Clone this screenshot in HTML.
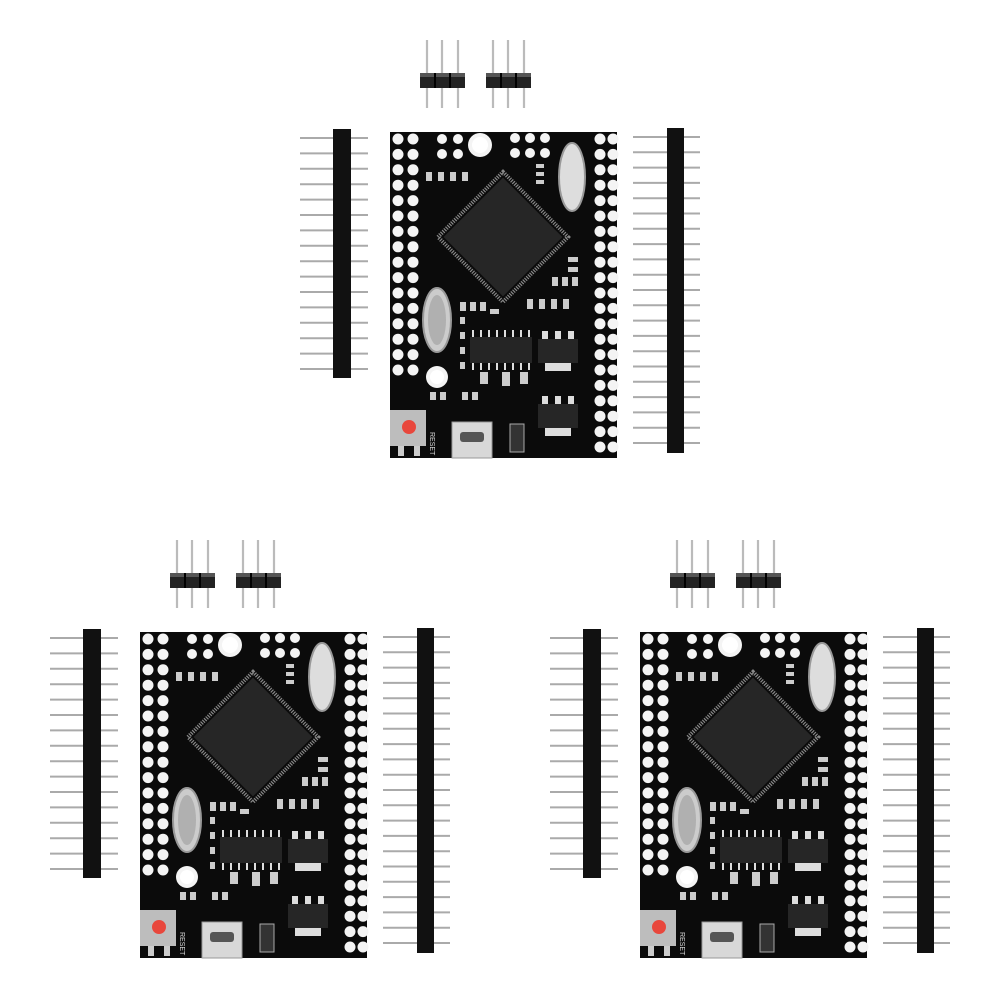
<!DOCTYPE html>
<html><head><meta charset="utf-8"><style>
html,body{margin:0;padding:0;background:#fff;}
svg{display:block;}
</style></head><body>
<svg width="1001" height="1001" viewBox="0 0 1001 1001" xmlns="http://www.w3.org/2000/svg">
<defs>
<g id="sh">
  <g stroke="#bbb" stroke-width="2.2">
    <line x1="7" y1="40" x2="7" y2="108"/><line x1="22" y1="40" x2="22" y2="108"/><line x1="38" y1="40" x2="38" y2="108"/>
  </g>
  <rect x="0" y="73" width="45" height="15" fill="#222"/>
  <rect x="0" y="73" width="45" height="4" fill="#555"/>
  <rect x="14" y="73" width="2" height="15" fill="#000"/><rect x="29" y="73" width="2" height="15" fill="#000"/>
</g>
<g id="board">
  <use href="#sh" transform="translate(420,0)"/>
  <use href="#sh" transform="translate(486,0)"/>
  <!-- left header -->
  <g stroke="#aaa" stroke-width="2">
    <line x1="300" y1="138" x2="368" y2="138"/><line x1="300" y1="153.4" x2="368" y2="153.4"/><line x1="300" y1="168.8" x2="368" y2="168.8"/><line x1="300" y1="184.2" x2="368" y2="184.2"/>
    <line x1="300" y1="199.6" x2="368" y2="199.6"/><line x1="300" y1="215" x2="368" y2="215"/><line x1="300" y1="230.4" x2="368" y2="230.4"/><line x1="300" y1="245.8" x2="368" y2="245.8"/>
    <line x1="300" y1="261.2" x2="368" y2="261.2"/><line x1="300" y1="276.6" x2="368" y2="276.6"/><line x1="300" y1="292" x2="368" y2="292"/><line x1="300" y1="307.4" x2="368" y2="307.4"/>
    <line x1="300" y1="322.8" x2="368" y2="322.8"/><line x1="300" y1="338.2" x2="368" y2="338.2"/><line x1="300" y1="353.6" x2="368" y2="353.6"/><line x1="300" y1="369" x2="368" y2="369"/>
  </g>
  <rect x="333" y="129" width="18" height="249" fill="#111"/>
  <!-- right header -->
  <g stroke="#aaa" stroke-width="2">
    <line x1="633" y1="137" x2="700" y2="137"/><line x1="633" y1="152.3" x2="700" y2="152.3"/><line x1="633" y1="167.6" x2="700" y2="167.6"/><line x1="633" y1="182.9" x2="700" y2="182.9"/>
    <line x1="633" y1="198.2" x2="700" y2="198.2"/><line x1="633" y1="213.5" x2="700" y2="213.5"/><line x1="633" y1="228.8" x2="700" y2="228.8"/><line x1="633" y1="244.1" x2="700" y2="244.1"/>
    <line x1="633" y1="259.4" x2="700" y2="259.4"/><line x1="633" y1="274.7" x2="700" y2="274.7"/><line x1="633" y1="290" x2="700" y2="290"/><line x1="633" y1="305.3" x2="700" y2="305.3"/>
    <line x1="633" y1="320.6" x2="700" y2="320.6"/><line x1="633" y1="335.9" x2="700" y2="335.9"/><line x1="633" y1="351.2" x2="700" y2="351.2"/><line x1="633" y1="366.5" x2="700" y2="366.5"/>
    <line x1="633" y1="381.8" x2="700" y2="381.8"/><line x1="633" y1="397.1" x2="700" y2="397.1"/><line x1="633" y1="412.4" x2="700" y2="412.4"/><line x1="633" y1="427.7" x2="700" y2="427.7"/>
    <line x1="633" y1="443" x2="700" y2="443"/>
  </g>
  <rect x="667" y="128" width="17" height="325" fill="#111"/>
  <!-- PCB -->
  <g transform="translate(390,132)">
    <rect x="0" y="0" width="227" height="326" fill="#0b0b0b"/>
    <g fill="#f4f4f4" id="lcol">
      <circle cx="8" cy="7" r="5.5"/><circle cx="8" cy="22.4" r="5.5"/><circle cx="8" cy="37.8" r="5.5"/><circle cx="8" cy="53.2" r="5.5"/>
      <circle cx="8" cy="68.6" r="5.5"/><circle cx="8" cy="84" r="5.5"/><circle cx="8" cy="99.4" r="5.5"/><circle cx="8" cy="114.8" r="5.5"/>
      <circle cx="8" cy="130.2" r="5.5"/><circle cx="8" cy="145.6" r="5.5"/><circle cx="8" cy="161" r="5.5"/><circle cx="8" cy="176.4" r="5.5"/>
      <circle cx="8" cy="191.8" r="5.5"/><circle cx="8" cy="207.2" r="5.5"/><circle cx="8" cy="222.6" r="5.5"/><circle cx="8" cy="238" r="5.5"/>
    </g>
    <use href="#lcol" transform="translate(15,0)"/>
    <g fill="#f4f4f4" id="rcol">
      <circle cx="210" cy="7" r="5.5"/><circle cx="210" cy="22.4" r="5.5"/><circle cx="210" cy="37.8" r="5.5"/><circle cx="210" cy="53.2" r="5.5"/>
      <circle cx="210" cy="68.6" r="5.5"/><circle cx="210" cy="84" r="5.5"/><circle cx="210" cy="99.4" r="5.5"/><circle cx="210" cy="114.8" r="5.5"/>
      <circle cx="210" cy="130.2" r="5.5"/><circle cx="210" cy="145.6" r="5.5"/><circle cx="210" cy="161" r="5.5"/><circle cx="210" cy="176.4" r="5.5"/>
      <circle cx="210" cy="191.8" r="5.5"/><circle cx="210" cy="207.2" r="5.5"/><circle cx="210" cy="222.6" r="5.5"/><circle cx="210" cy="238" r="5.5"/>
      <circle cx="210" cy="253.4" r="5.5"/><circle cx="210" cy="268.8" r="5.5"/><circle cx="210" cy="284.2" r="5.5"/><circle cx="210" cy="299.6" r="5.5"/>
      <circle cx="210" cy="315" r="5.5"/>
    </g>
    <use href="#rcol" transform="translate(13,0)"/>
    <g fill="#f4f4f4">
      <circle cx="52" cy="7" r="5"/><circle cx="68" cy="7" r="5"/><circle cx="52" cy="22" r="5"/><circle cx="68" cy="22" r="5"/>
      <circle cx="125" cy="6" r="5"/><circle cx="140" cy="6" r="5"/><circle cx="155" cy="6" r="5"/>
      <circle cx="125" cy="21" r="5"/><circle cx="140" cy="21" r="5"/><circle cx="155" cy="21" r="5"/>
    </g>
    <circle cx="90" cy="13" r="12" fill="#f4f4f4"/><circle cx="90" cy="13" r="8" fill="#fff"/>
    <g fill="#ccc"><rect x="36" y="40" width="6" height="9"/><rect x="48" y="40" width="6" height="9"/><rect x="60" y="40" width="6" height="9"/><rect x="72" y="40" width="6" height="9"/></g>
    <ellipse cx="182" cy="45" rx="13" ry="34" fill="#ddd" stroke="#999" stroke-width="2"/>
    <g fill="#ccc"><rect x="146" y="32" width="8" height="4"/><rect x="146" y="40" width="8" height="4"/><rect x="146" y="48" width="8" height="4"/></g>
    <g transform="translate(113,105) rotate(45)">
      <rect x="-46" y="-46" width="92" height="92" fill="none" stroke="#888" stroke-width="4" stroke-dasharray="1.2 1.2"/>
      <rect x="-42" y="-42" width="84" height="84" fill="#262626"/>
    </g>
    <g fill="#ccc">
      <rect x="178" y="125" width="10" height="5"/><rect x="178" y="135" width="10" height="5"/>
      <rect x="162" y="145" width="6" height="9"/><rect x="172" y="145" width="6" height="9"/><rect x="182" y="145" width="6" height="9"/>
      <rect x="70" y="170" width="6" height="9"/><rect x="80" y="170" width="6" height="9"/><rect x="90" y="170" width="6" height="9"/><rect x="100" y="177" width="9" height="5"/>
      <rect x="137" y="167" width="6" height="10"/><rect x="149" y="167" width="6" height="10"/><rect x="161" y="167" width="6" height="10"/><rect x="173" y="167" width="6" height="10"/>
      <rect x="70" y="185" width="5" height="7"/><rect x="70" y="200" width="5" height="7"/><rect x="70" y="215" width="5" height="7"/><rect x="70" y="230" width="5" height="7"/>
      <rect x="90" y="240" width="8" height="12"/><rect x="112" y="240" width="8" height="14"/><rect x="130" y="240" width="8" height="12"/>
      <rect x="40" y="260" width="6" height="8"/><rect x="50" y="260" width="6" height="8"/><rect x="72" y="260" width="6" height="8"/><rect x="82" y="260" width="6" height="8"/>
    </g>
    <ellipse cx="47" cy="188" rx="14" ry="32" fill="#ccc" stroke="#999" stroke-width="2"/>
    <ellipse cx="47" cy="188" rx="9" ry="25" fill="#b0b0b0"/>
    <circle cx="47" cy="245" r="11" fill="#f4f4f4"/><circle cx="47" cy="245" r="7" fill="#fff"/>
    <g fill="#ddd">
      <rect x="82" y="198" width="2" height="8"/><rect x="90" y="198" width="2" height="8"/><rect x="98" y="198" width="2" height="8"/><rect x="106" y="198" width="2" height="8"/><rect x="114" y="198" width="2" height="8"/><rect x="122" y="198" width="2" height="8"/><rect x="130" y="198" width="2" height="8"/><rect x="138" y="198" width="2" height="8"/>
      <rect x="82" y="230" width="2" height="8"/><rect x="90" y="230" width="2" height="8"/><rect x="98" y="230" width="2" height="8"/><rect x="106" y="230" width="2" height="8"/><rect x="114" y="230" width="2" height="8"/><rect x="122" y="230" width="2" height="8"/><rect x="130" y="230" width="2" height="8"/><rect x="138" y="230" width="2" height="8"/>
    </g>
    <rect x="80" y="205" width="62" height="26" fill="#252525"/>
    <g fill="#ddd"><rect x="152" y="199" width="6" height="8"/><rect x="165" y="199" width="6" height="8"/><rect x="178" y="199" width="6" height="8"/>
    <rect x="155" y="230" width="26" height="9"/>
    <rect x="152" y="264" width="6" height="8"/><rect x="165" y="264" width="6" height="8"/><rect x="178" y="264" width="6" height="8"/>
    <rect x="155" y="295" width="26" height="9"/></g>
    <rect x="148" y="207" width="40" height="24" fill="#262626"/>
    <rect x="148" y="272" width="40" height="24" fill="#262626"/>
    <rect x="0" y="278" width="36" height="36" fill="#bdbdbd"/>
    <circle cx="19" cy="295" r="7" fill="#e8473c"/>
    <rect x="8" y="314" width="6" height="10" fill="#ccc"/><rect x="24" y="314" width="6" height="10" fill="#ccc"/>
    <rect x="62" y="290" width="40" height="36" fill="#d8d8d8" stroke="#999"/>
    <rect x="70" y="300" width="24" height="10" rx="3" fill="#555"/>
    <rect x="120" y="292" width="14" height="28" fill="#333" stroke="#aaa"/>
    <text x="40" y="300" font-family="Liberation Sans, sans-serif" font-size="7" fill="#ddd" transform="rotate(90 40 300)">RESET</text>
  </g>
</g>
</defs>
<rect width="1001" height="1001" fill="#fff"/>
<use href="#board"/>
<use href="#board" transform="translate(-250,500)"/>
<use href="#board" transform="translate(250,500)"/>
</svg>
</body></html>
